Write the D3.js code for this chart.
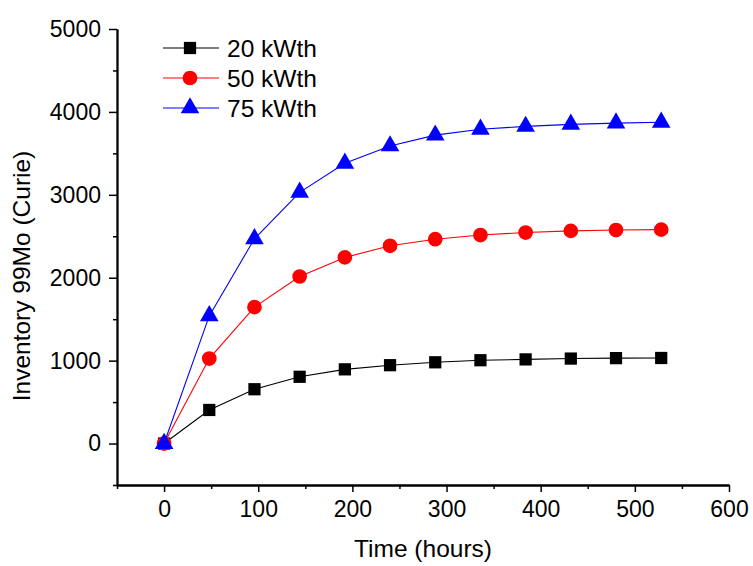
<!DOCTYPE html>
<html>
<head>
    <meta charset="utf-8">
    <style>
        body { margin: 0; background: white; }
        svg { font-family: 'Liberation Sans', Arial, sans-serif; }
    </style>
</head>
<body>
    <svg width="753" height="566"></svg>

<script src="https://d3js.org/d3.v7.min.js"></script>
<script>
    // hours
    let hours = [0, 48, 96, 144, 192, 240, 288, 336, 384, 432, 480, 528]

    // inventory (Curie) for each power level
    let kw20 = [0, 405, 655, 805, 895, 945, 980, 1005, 1015, 1025, 1030, 1032]
    let kw50 = [0, 1025, 1645, 2015, 2245, 2385, 2465, 2515, 2545, 2565, 2575, 2580]
    let kw75 = [0, 1540, 2470, 3030, 3380, 3590, 3720, 3790, 3825, 3850, 3865, 3875]

    let seriesNames = ["20 kWth", "50 kWth", "75 kWth"]
    let seriesColors = ["black", "red", "blue"]
    let seriesShapes = [d3.symbolSquare, d3.symbolCircle, d3.symbolTriangle]

    let xTicks = [0, 100, 200, 300, 400, 500, 600]
    let yTicks = [0, 1000, 2000, 3000, 4000, 5000]

    let series = [kw20, kw50, kw75].map((vals, i) => ({
        name: seriesNames[i],
        color: seriesColors[i],
        shape: seriesShapes[i],
        values: vals.map((v, j) => ({ x: hours[j], y: v }))
    }))

    let svg = d3.select("svg")

    let x = d3.scaleLinear().domain([-50, 600]).range([117, 729])
    let y = d3.scaleLinear().domain([-500, 5000]).range([485, 29])

    // axes (major + minor ticks)
    svg.append("g")
        .attr("transform", "translate(0,485)")
        .call(d3.axisBottom(x).tickValues(xTicks).tickSize(7).tickPadding(9).tickSizeOuter(0))
    svg.append("g")
        .attr("transform", "translate(0,485)")
        .call(d3.axisBottom(x).tickValues(d3.range(-50, 600, 100)).tickSize(4).tickFormat("").tickSizeOuter(0))

    svg.append("g")
        .attr("transform", "translate(117,0)")
        .call(d3.axisLeft(y).tickValues(yTicks).tickSize(8).tickPadding(8).tickFormat(d3.format("d")).tickSizeOuter(0))
    svg.append("g")
        .attr("transform", "translate(117,0)")
        .call(d3.axisLeft(y).tickValues(d3.range(-500, 5000, 1000)).tickSize(4).tickFormat("").tickSizeOuter(0))

    svg.selectAll(".domain").attr("stroke", "black").attr("stroke-width", 1.8)
    svg.selectAll(".tick line").attr("stroke", "black").attr("stroke-width", 1.5)
    svg.selectAll(".tick text").attr("font-size", 23).attr("fill", "black")
        .attr("font-family", "'Liberation Sans', Arial, sans-serif")

    // titles
    svg.append("text")
        .attr("x", 423).attr("y", 557)
        .attr("text-anchor", "middle")
        .attr("font-size", 24.5)
        .text("Time (hours)")

    svg.append("text")
        .attr("transform", "translate(30,276) rotate(-90)")
        .attr("text-anchor", "middle")
        .attr("font-size", 24.5)
        .text("Inventory 99Mo (Curie)")

    let line = d3.line().x(d => x(d.x)).y(d => y(d.y))

    let groups = svg.selectAll(".series")
        .data(series)
        .join("g")
        .attr("class", "series")

    groups.append("path")
        .attr("d", d => line(d.values))
        .attr("fill", "none")
        .attr("stroke", d => d.color)
        .attr("stroke-width", 1.1)

    let symbolSize = [150, 170, 150]
    groups.each(function (s, i) {
        d3.select(this).selectAll("path.pt")
            .data(s.values)
            .join("path")
            .attr("class", "pt")
            .attr("transform", d => "translate(" + x(d.x) + "," + y(d.y) + ")")
            .attr("d", d3.symbol().type(s.shape).size(symbolSize[i]))
            .attr("fill", s.color)
    })

    // legend
    let legend = svg.append("g")
    series.forEach((s, i) => {
        let ly = 48 + i * 30
        legend.append("line")
            .attr("x1", 163).attr("x2", 219)
            .attr("y1", ly).attr("y2", ly)
            .attr("stroke", s.color).attr("stroke-width", 1.1)
        legend.append("path")
            .attr("transform", "translate(190," + ly + ")")
            .attr("d", d3.symbol().type(s.shape).size(symbolSize[i]))
            .attr("fill", s.color)
        legend.append("text")
            .attr("x", 227).attr("y", ly + 8.5)
            .attr("font-size", 24.5)
            .text(s.name)
    })
</script>
</body>
</html>
